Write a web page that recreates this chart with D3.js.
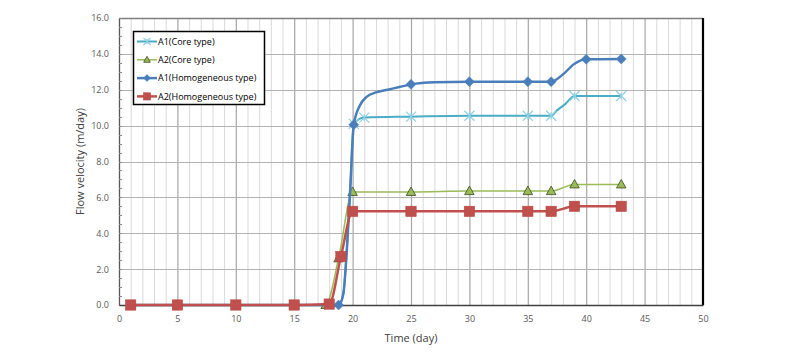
<!DOCTYPE html>
<html>
<head>
<meta charset="utf-8">
<script src="https://cdn.jsdelivr.net/npm/d3@7"></script>
<style>
  html, body { margin: 0; padding: 0; background: #fff; }
  svg { display: block; }
  text { font-family: "Open Sans", "Noto Sans", sans-serif; }
</style>
</head>
<body>
<svg id="chart" width="800" height="356"></svg>
<script>
// ---- data ----
const seriesNames = ["A1(Core type)", "A2(Core type)", "A1(Homogeneous type)", "A2(Homogeneous type)"];

// A1 (Core type) – line points [day, velocity]
const a1CoreLine = [[1,0],[5,0],[10,0],[15,0],[18,0],[18.8,0],[19.2,0.6],[19.5,3],[19.8,6.5],[20.1,10.1],[21,10.45],[25,10.5],[30,10.55],[35,10.55],[37,10.55],[37.5,10.85],[38.2,11.2],[39,11.65],[43,11.65]];
const a1CoreMarkerDays = [20.1,21,25,30,35,37,39,43];

// A2 (Core type)
const a2CoreLine = [[1,0],[5,0],[10,0],[15,0],[17.7,0],[18.8,2.6],[20,6.3],[25,6.3],[30,6.35],[35,6.35],[37,6.35],[39,6.72],[43,6.72]];
const a2CoreMarkerDays = [1,5,10,15,17.7,18.8,20,25,30,35,37,39,43];

// A1 (Homogeneous type)
const a1HomLine = [[1,0],[5,0],[10,0],[15,0],[18,0],[18.8,0],[19.2,0.6],[19.5,3],[19.8,6.5],[20.1,10.05],[20.6,11.1],[21.2,11.6],[22,11.85],[23,12.0],[24,12.15],[25,12.3],[27,12.42],[30,12.45],[35,12.45],[37,12.45],[38,12.85],[39,13.45],[40,13.7],[43,13.72]];
const a1HomMarkerDays = [1,5,10,15,18.8,20.1,25,30,35,37,40,43];

// A2 (Homogeneous type)
const a2HomLine = [[1,0],[5,0],[10,0],[15,0],[18,0.05],[19,2.7],[20,5.22],[25,5.22],[30,5.22],[35,5.22],[37,5.22],[39,5.5],[43,5.5]];
const a2HomMarkerDays = [1,5,10,15,18,19,20,25,30,35,37,39,43];

const xTicks = [0,5,10,15,20,25,30,35,40,45,50];
const yTicks = [0,2,4,6,8,10,12,14,16];
const xTitle = "Time (day)";
const yTitle = "Flow velocity (m/day)";

// ---- layout ----
const svg = d3.select("#chart");
const L = 119, R = 703, T = 18, B = 305;
const x = d3.scaleLinear().domain([0,50]).range([L,R]);
const y = d3.scaleLinear().domain([0,16]).range([B,T]);

// grid: minor vertical every day
const g = svg.append("g");
g.selectAll("line.vminor").data(d3.range(1,50)).join("line")
  .attr("x1", d => x(d)+0.5).attr("x2", d => x(d)+0.5)
  .attr("y1", T).attr("y2", B)
  .attr("stroke", d => d % 5 === 0 ? "#a6a6a6" : "#d9d9d9")
  .attr("stroke-width", d => d % 5 === 0 ? 1.2 : 1);
g.selectAll("line.h").data(yTicks.filter(d => d > 0 && d < 16)).join("line")
  .attr("x1", L).attr("x2", R)
  .attr("y1", d => Math.round(y(d))+0.5).attr("y2", d => Math.round(y(d))+0.5)
  .attr("stroke", "#b3b3b3").attr("stroke-width", 1.2);

// plot border
svg.append("line").attr("x1", L).attr("x2", R).attr("y1", T+0.5).attr("y2", T+0.5).attr("stroke", "#7f7f7f").attr("stroke-width", 1.5);
svg.append("line").attr("x1", R).attr("x2", R).attr("y1", T).attr("y2", B).attr("stroke", "#000").attr("stroke-width", 2.2);

// axes
const yAxis = d3.axisLeft(y).tickValues(yTicks).tickFormat(d3.format(".1f")).tickSize(0).tickPadding(10);
const yg = svg.append("g").attr("transform", `translate(${L},0)`).call(yAxis);
yg.select(".domain").attr("stroke", "#595959").attr("stroke-width", 1.3);
yg.selectAll("text").attr("fill", "#595959").style("font-size", "9px");
// minor ticks on y axis
svg.append("g").selectAll("line").data(d3.range(0, 16.01, 0.5)).join("line")
  .attr("x1", L).attr("x2", L+3)
  .attr("y1", d => Math.round(y(d))+0.5).attr("y2", d => Math.round(y(d))+0.5)
  .attr("stroke", "#8c8c8c").attr("stroke-width", 1);

const xAxis = d3.axisBottom(x).tickValues(xTicks).tickSize(0).tickPadding(11);
const xg = svg.append("g").attr("transform", `translate(0,${B})`).call(xAxis);
xg.select(".domain").attr("stroke", "#404040").attr("stroke-width", 1.5);
xg.selectAll("text").attr("fill", "#595959").style("font-size", "9px");

svg.append("text").attr("x", (L+R)/2).attr("y", 342).attr("text-anchor", "middle")
  .attr("fill", "#404040").style("font-size", "11px").text(xTitle);
svg.append("text").attr("transform", `translate(84,${(T+B)/2}) rotate(-90)`).attr("text-anchor", "middle")
  .attr("fill", "#404040").style("font-size", "11px").text(yTitle);

// ---- series ----
const line = d3.line().x(d => x(d[0])).y(d => y(d[1])).curve(d3.curveMonotoneX);
const styles = [
  {color: "#4bacc6", width: 2, marker: "x"},
  {color: "#9bbb59", width: 1.5, marker: "tri"},
  {color: "#4a7ebb", width: 2.5, marker: "diamond"},
  {color: "#c0504d", width: 2.5, marker: "square"}
];
const seriesData = [
  {line: a1CoreLine, marks: a1CoreMarkerDays},
  {line: a2CoreLine, marks: a2CoreMarkerDays},
  {line: a1HomLine, marks: a1HomMarkerDays},
  {line: a2HomLine, marks: a2HomMarkerDays}
];

function drawMarker(sel, type, color, cx, cy, scale) {
  const s = scale || 1;
  if (type === "x") {
    const r = 5*s;
    const gg = sel.append("g").attr("transform", `translate(${cx},${cy})`);
    gg.append("path").attr("d", `M${-r},${-r}L${r},${r}M${-r},${r}L${r},${-r}M0,${-r*0.7}L0,${r*0.7}`)
      .attr("stroke", "#8fd0e3").attr("stroke-width", 1.2).attr("fill", "none");
  } else if (type === "tri") {
    const r = 5*s;
    sel.append("path").attr("d", `M${cx},${cy-r}L${cx+r*0.95},${cy+r*0.7}L${cx-r*0.95},${cy+r*0.7}Z`)
      .attr("fill", color).attr("stroke", "#3b4a1f").attr("stroke-width", 0.8);
  } else if (type === "diamond") {
    const r = 5*s;
    sel.append("path").attr("d", `M${cx},${cy-r}L${cx+r},${cy}L${cx},${cy+r}L${cx-r},${cy}Z`)
      .attr("fill", color).attr("stroke", color).attr("stroke-width", 0.5);
  } else if (type === "square") {
    const h = 5.2*s;
    sel.append("rect").attr("x", cx-h).attr("y", cy-h).attr("width", 2*h).attr("height", 2*h)
      .attr("fill", color).attr("stroke", "#b84542").attr("stroke-width", 0.5);
  }
}

seriesData.forEach((s, i) => {
  const st = styles[i];
  const gs = svg.append("g");
  gs.append("path").datum(s.line).attr("d", line)
    .attr("fill", "none").attr("stroke", st.color).attr("stroke-width", st.width)
    .attr("stroke-linejoin", "round");
  s.marks.forEach(day => {
    const pt = s.line.find(p => p[0] === day);
    drawMarker(gs, st.marker, st.color, x(pt[0]), y(pt[1]));
  });
});

// ---- legend ----
const lg = svg.append("g");
lg.append("rect").attr("x", 133.5).attr("y", 31.5).attr("width", 131).attr("height", 73)
  .attr("fill", "#fff").attr("stroke", "#000").attr("stroke-width", 1.5);
seriesNames.forEach((name, i) => {
  const cy = 41.5 + i*18.3;
  const st = styles[i];
  lg.append("line").attr("x1", 137).attr("x2", 157).attr("y1", cy).attr("y2", cy)
    .attr("stroke", st.color).attr("stroke-width", st.width);
  drawMarker(lg, st.marker, st.color, 147, cy, 0.7);
  lg.append("text").attr("x", 158).attr("y", cy).attr("dy", "0.35em")
    .attr("fill", "#000").style("font-size", "9px").text(name);
});
</script>
</body>
</html>
